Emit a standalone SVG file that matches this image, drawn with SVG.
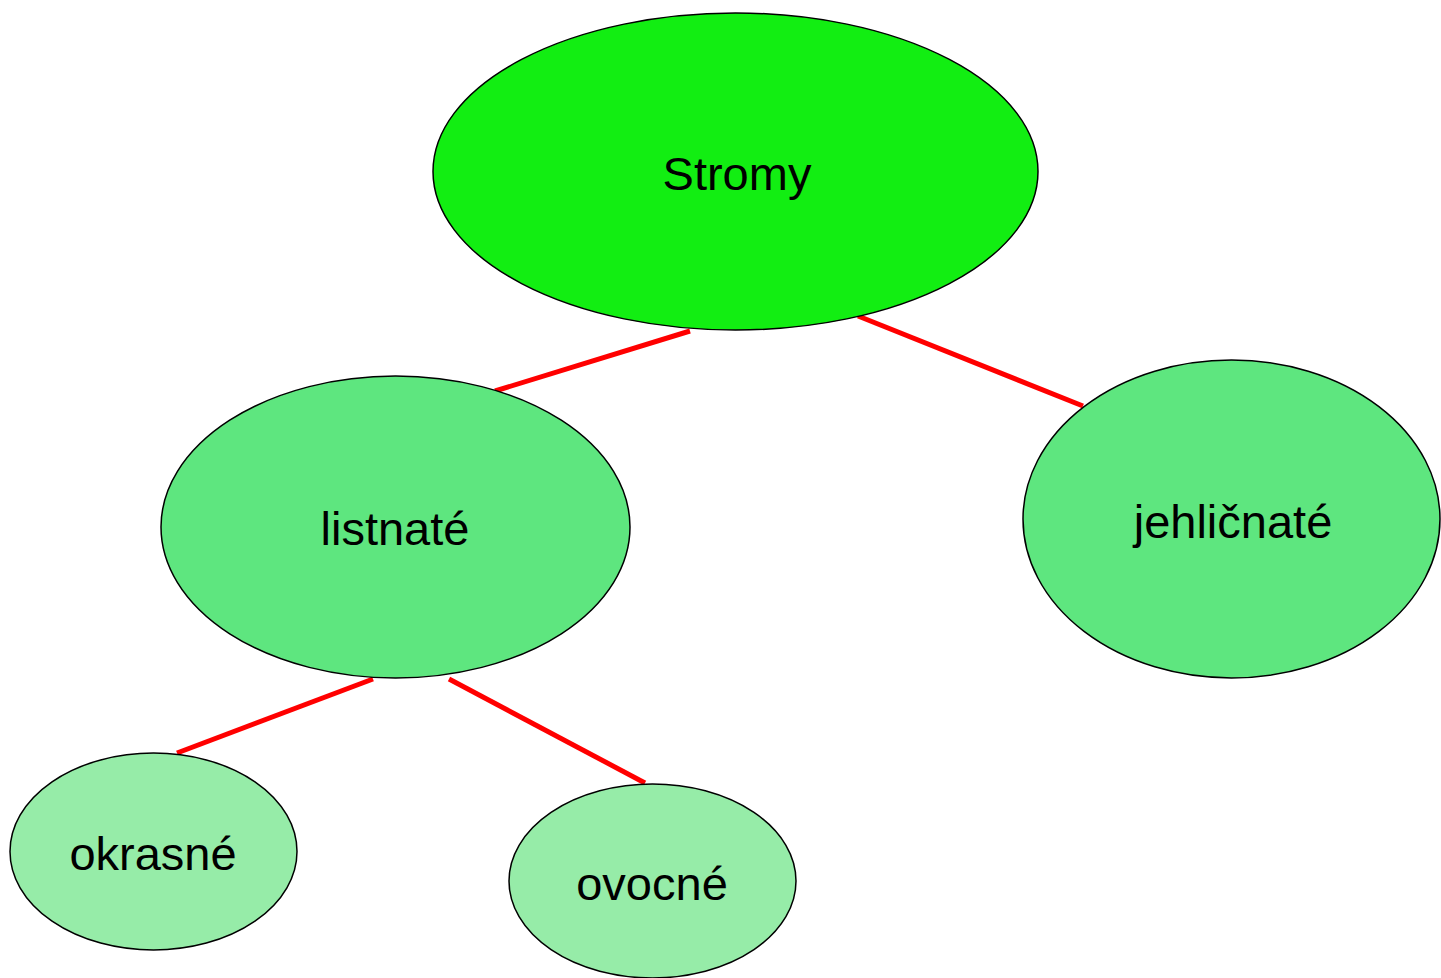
<svg xmlns="http://www.w3.org/2000/svg" width="1441" height="978" viewBox="0 0 1441 978">
<style>
.n{stroke:#000;stroke-width:1.5}
.t{font-family:"Liberation Sans",Arial,sans-serif;font-size:47px;fill:#000;text-anchor:middle}
.c{stroke:#ff0000;stroke-width:5;fill:none}
</style>
<rect width="1441" height="978" fill="#fff"/>
<g id="connectors">
<line class="c" x1="690" y1="331" x2="495" y2="391"/>
<line class="c" x1="858" y1="316" x2="1083" y2="406"/>
<line class="c" x1="373" y1="679" x2="177" y2="753"/>
<line class="c" x1="449" y1="679" x2="645" y2="783"/>
</g>
<g id="stromy">
<ellipse class="n" cx="735.5" cy="171.5" rx="302.5" ry="158.5" fill="#12EE12"/>
<text class="t" x="737" y="190">Stromy</text>
</g>
<g id="listnate">
<ellipse class="n" cx="395.5" cy="527" rx="234.5" ry="151" fill="#5EE67F"/>
<text class="t" x="395" y="545">listnaté</text>
</g>
<g id="jehlicnate">
<ellipse class="n" cx="1231.5" cy="519" rx="208.5" ry="159" fill="#5EE67F"/>
<text class="t" x="1233" y="538">jehličnaté</text>
</g>
<g id="okrasne">
<ellipse class="n" cx="153.5" cy="851.5" rx="143.5" ry="98.5" fill="#96ECA8"/>
<text class="t" x="153" y="870">okrasné</text>
</g>
<g id="ovocne">
<ellipse class="n" cx="652.5" cy="881" rx="143.5" ry="97" fill="#96ECA8"/>
<text class="t" x="652" y="900">ovocné</text>
</g>
</svg>
